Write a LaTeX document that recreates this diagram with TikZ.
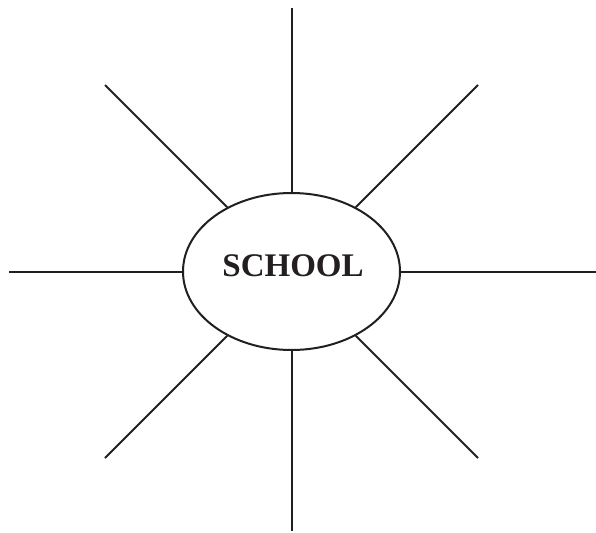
\documentclass[tikz,border=0pt]{standalone}
\usepackage{fontspec}
\setmainfont{Liberation Serif}
\usetikzlibrary{shapes.geometric}
\definecolor{ink}{HTML}{231F20}
\begin{document}
\begin{tikzpicture}[x=1pt,y=-1pt,
  spoke/.style={draw=ink,line width=2pt},
  hub/.style={ellipse,draw=ink,line width=2pt,minimum width=217pt,minimum height=157pt,inner sep=0pt},
  lbl/.style={font=\bfseries\fontsize{33}{36}\selectfont,text=ink,inner sep=0pt,anchor=base}]
\useasboundingbox (0,0) rectangle (596,532);
\node[hub] (c) at (291.5,271.5) {};
\node[lbl] (t) at (293,276.7) {SCHOOL};
\coordinate (n) at (291.5,8);
\coordinate (s) at (291.5,531);
\coordinate (w) at (9,271.5);
\coordinate (e) at (596,271.5);
\coordinate (nw) at (105,85);
\coordinate (ne) at (478,85);
\coordinate (sw) at (105,458);
\coordinate (se) at (478,458);
\foreach \p in {n,s,w,e,nw,ne,sw,se}{\draw[spoke] (c) -- (\p);}
\end{tikzpicture}
\end{document}
